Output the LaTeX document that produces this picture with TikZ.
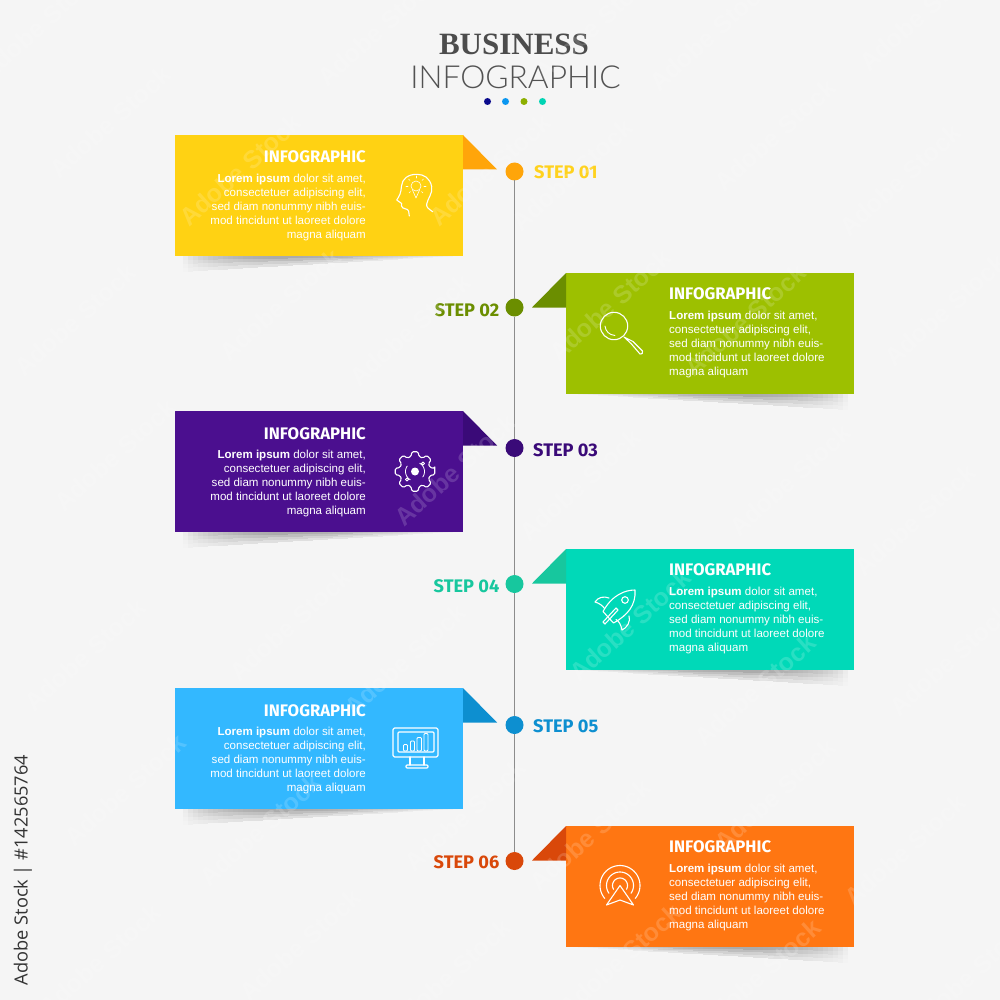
\documentclass[tikz,border=0pt]{standalone}
\usepackage{fontspec}
\setmainfont{Liberation Sans}
\newfontfamily\dinf{Fira Sans}
\newfontfamily\serf{Liberation Serif}
\newfontfamily\lightf{Lato Light}
\newfontfamily\sidef{Open Sans}
\definecolor{bgc}{HTML}{F5F5F5}
\definecolor{shc}{HTML}{ABABAB}
\definecolor{yel}{HTML}{FFD213}\definecolor{yelF}{HTML}{FFA50A}\definecolor{yelL}{HTML}{FFD21E}
\definecolor{gre}{HTML}{9DC000}\definecolor{greF}{HTML}{6B8E00}
\definecolor{pur}{HTML}{4B0F8F}\definecolor{purF}{HTML}{3A0A78}
\definecolor{tea}{HTML}{00D9B8}\definecolor{teaF}{HTML}{17C79E}
\definecolor{blu}{HTML}{33B8FF}\definecolor{bluF}{HTML}{0D8FD0}
\definecolor{ora}{HTML}{FF7612}\definecolor{oraF}{HTML}{D9480A}
\definecolor{tdA}{HTML}{0A0A8C}\definecolor{tdB}{HTML}{0A96F0}\definecolor{tdC}{HTML}{8CAF00}\definecolor{tdD}{HTML}{00D4B4}
\tikzset{
  x=1pt,y=-1pt,
  card/.style={anchor=north west,minimum width=288pt,minimum height=121pt,inner sep=0pt,outer sep=0pt},
  stepdot/.style={circle,minimum size=18pt,inner sep=0pt,outer sep=0pt},
  steplab/.style={font=\dinf\bfseries\fontsize{18.2}{18}\selectfont,inner sep=0pt},
  headlab/.style={font=\dinf\bfseries\fontsize{16.7}{17}\selectfont,text=white,inner sep=0pt},
  bodyR/.style={font=\fontsize{11.55}{14}\selectfont,text=white,inner sep=0pt,align=right,anchor=north east},
  bodyL/.style={font=\fontsize{11.55}{14}\selectfont,text=white,inner sep=0pt,align=left,anchor=north west},
  icon/.style={draw=white,line width=1.1pt,line cap=round,line join=round},
  wm/.style={font=\bfseries\fontsize{25}{25}\selectfont,text=white,opacity=.16,rotate=42,inner sep=0pt},
  tdot/.style={circle,minimum size=7pt,inner sep=0pt},
}
% soft cast shadow built from solid slices: #1 = top y, #2 = start x, #3 = +1/-1 direction
\newcommand\softshadow[3]{%
  \foreach \k in {0,...,54}{%
    \pgfmathsetmacro{\tv}{(\k+.5)/55}%
    \pgfmathsetmacro{\px}{#2+#3*5*\k}%
    \pgfmathsetmacro{\hh}{16*(1-\tv)}%
    \pgfmathsetmacro{\mm}{sin(180*pow(\tv,.7))}%
    \foreach \b/\w in {1/.3,.75/.5,.5/.75,.25/1}{%
      \pgfmathsetmacro{\cm}{100*\mm*\w}%
      \fill[shc!\cm!bgc] (\px,#1) rectangle (\px+#3*5.4,#1+\hh*\b);
    }%
  }%
}
\newcommand\leftcard[4]{%
  \softshadow{#1+121}{183}{1}%
  \node[card,fill=#2] (card#4) at (175,#1) {};
  \fill[#3] (463,#1) -- (497,#1+34.5) -- (463,#1+34.5) -- cycle;
  \node[headlab,anchor=base east] (head#4) at (366,#1+28) {INFOGRAPHIC};
  \node[bodyR] (body#4) at (366,#1+39) {\textbf{Lorem ipsum} dolor sit amet,\\consectetuer adipiscing elit,\\sed diam nonummy nibh euis-\\mod tincidunt ut laoreet dolore\\magna aliquam};
}
\newcommand\rightcard[4]{%
  \softshadow{#1+121}{848}{-1}%
  \node[card,fill=#2] (card#4) at (566,#1) {};
  \fill[#3] (566,#1) -- (532,#1+34.5) -- (566,#1+34.5) -- cycle;
  \node[headlab,anchor=base west] (head#4) at (669,#1+26) {INFOGRAPHIC};
  \node[bodyL] (body#4) at (669,#1+37.5) {\textbf{Lorem ipsum} dolor sit amet,\\consectetuer adipiscing elit,\\sed diam nonummy nibh euis-\\mod tincidunt ut laoreet dolore\\magna aliquam};
}
\begin{document}
\begin{tikzpicture}
\useasboundingbox (0,0) rectangle (1000,1000);
\fill[bgc] (0,0) rectangle (1000,1000);

% title
\node[font=\serf\bfseries\fontsize{31}{31}\selectfont,text=black!70,inner sep=0pt,anchor=base] (title1) at (514,54.5) {BUSINESS};
\node[font=\lightf\fontsize{31.7}{32}\selectfont,text=black!68,inner sep=0pt,anchor=base] (title2) at (515.5,89) {INFOGRAPHIC};
\node[tdot,fill=tdA] (td1) at (487.5,101.5) {};
\node[tdot,fill=tdB] (td2) at (505.5,101.5) {};
\node[tdot,fill=tdC] (td3) at (524,101.5) {};
\node[tdot,fill=tdD] (td4) at (542.5,101.5) {};

% cards
\leftcard{135}{yel}{yelF}{a}
\rightcard{273}{gre}{greF}{b}
\leftcard{411}{pur}{purF}{c}
\rightcard{549}{tea}{teaF}{d}
\leftcard{688}{blu}{bluF}{e}
\rightcard{826}{ora}{oraF}{f}

% timeline
\node[stepdot,fill=yelF] (d1) at (514.5,171.5) {};
\node[stepdot,fill=greF] (d2) at (514.5,307.5) {};
\node[stepdot,fill=purF] (d3) at (514.5,448) {};
\node[stepdot,fill=teaF] (d4) at (514.5,584) {};
\node[stepdot,fill=bluF] (d5) at (514.5,725) {};
\node[stepdot,fill=oraF] (d6) at (514.5,861) {};
\draw[black!45,line width=1.2pt] (d1) -- (d2) -- (d3) -- (d4) -- (d5) -- (d6);

\node[steplab,anchor=west,text=yelL] (s1) at (534,172) {STEP 01};
\node[steplab,anchor=east,text=greF] (s2) at (499.5,310) {STEP 02};
\node[steplab,anchor=west,text=purF] (s3) at (533,450) {STEP 03};
\node[steplab,anchor=east,text=teaF] (s4) at (499.5,586) {STEP 04};
\node[steplab,anchor=west,text=bluF] (s5) at (533,726) {STEP 05};
\node[steplab,anchor=east,text=oraF] (s6) at (499.5,862) {STEP 06};

% icon 1: head with bulb
\draw[icon] (432.7,211.7) .. controls (429,209) and (426,207.5) .. (426.7,204) .. controls (427.5,199) and (433,193) .. (431.7,186.7) .. controls (430,178) and (424,174.3) .. (416.7,174.3) .. controls (408,174.3) and (402,179) .. (401.5,186) .. controls (401,193) and (399.5,196) .. (396.7,200) -- (401.7,203.5) -- (401.5,206) .. controls (402,209.5) and (408,208) .. (408.6,211) -- (409.3,216);
\draw[icon,line width=.6pt] (416,186) circle[radius=5pt];
\draw[icon,line width=.6pt] (412.5,190) -- (416,198) -- (419.5,190);
\foreach \a/\b/\c/\d in {416/176/416/178,408.5/179/410/180.5,423.5/179/422/180.5,406/186/408/186,426/186/424/186,409/193/410.5/191.5,423/193/421.5/191.5}
  \draw[icon,line width=.6pt] (\a,\b) -- (\c,\d);

% icon 2: magnifier
\draw[icon] (614,326) circle[radius=13.7pt];
\draw[icon,line width=.9pt] (605,326) .. controls (605.5,331) and (609,335) .. (615,335.5);
\draw[icon] (624,337) -- (631,343.5) -- (640,354) .. controls (641.5,355) and (643.5,353) .. (642.5,351) -- (633,341.5) -- (624,337);

% icon 3: gear
\begin{scope}[shift={(415,471.5)}]
\draw[icon,rounded corners=1.4pt] (-9:20) \foreach \t in {0,45,...,315} { -- (\t-9:20) -- (\t+9:20) -- (\t+15:15.5) -- (\t+30:15.5) } -- cycle;
\fill[white] (0,0) circle[radius=4pt];
\draw[icon,line width=.8pt] plot[domain=120:215,samples=15,smooth] ({9.5*cos(\x)},{9.5*sin(\x)});
\draw[icon,line width=.8pt] plot[domain=-60:35,samples=15,smooth] ({9.5*cos(\x)},{9.5*sin(\x)});
\draw[icon,line width=.8pt] (8,-8) circle[radius=1.5pt];
\draw[icon,line width=.8pt] (-8,8) circle[radius=1.5pt];
\end{scope}

% icon 4: rocket
\draw[icon] (635,590) .. controls (625,590) and (612,595) .. (603,611.5) -- (613.5,623) .. controls (628,615) and (636,605) .. (635,590) -- cycle;
\draw[icon] (625,600) circle[radius=3.3pt];
\draw[icon] (609,598) .. controls (604,596) and (598,597) .. (595,602) .. controls (599,603) and (603,606) .. (604.5,608.5);
\draw[icon] (629,616) .. controls (631,621) and (627,628) .. (622,630) .. controls (621,625) and (619,621) .. (616,619.5);
\draw[icon] (603,622) -- (616,608) -- (618,610) -- (605,624) -- cycle;

% icon 5: monitor
\draw[icon,rounded corners=1.5pt] (393,728) rectangle (438,757);
\draw[icon,rounded corners=1pt] (398,732) rectangle (434,752);
\draw[icon] (410,757) -- (410,765) (424,757) -- (424,765);
\draw[icon,rounded corners=1pt] (406,765) rectangle (428,768);
\draw[icon,line width=.9pt,rounded corners=1pt] (403.5,751) rectangle (407.5,744.5);
\draw[icon,line width=.9pt,rounded corners=1pt] (410.5,751) rectangle (414.5,741);
\draw[icon,line width=.9pt,rounded corners=1pt] (417,751) rectangle (421.5,737.5);
\draw[icon,line width=.9pt,rounded corners=1pt] (424,751) rectangle (428,733.5);

% icon 6: antenna
\begin{scope}[shift={(620,885.5)}]
\draw[icon] plot[domain=140:400,samples=40,smooth] ({20*cos(\x)},{20*sin(\x)});
\draw[icon] plot[domain=145:395,samples=40,smooth] ({13.5*cos(\x)},{13.5*sin(\x)});
\draw[icon] plot[domain=150:390,samples=30,smooth] ({7.5*cos(\x)},{7.5*sin(\x)});
\draw[icon,fill=ora] (0,0) -- (13.5,19.5) -- (0,14.5) -- (-13.5,19.5) -- cycle;
\end{scope}

% side credit
\node[font=\sidef\fontsize{18.2}{18}\selectfont,text=black!80,rotate=90,inner sep=0pt,anchor=center] (credit) at (23,870) {Adobe Stock | \#142565764};

% stock marks
\foreach \x/\y [count=\i] in {40/25,110/122,240/170,378/30,490/170,572/175,595/25,710/35,775/135,900/180,920/15,75/320,280/305,410/330,610/305,745/320,945/310,115/455,455/470,580/485,790/480,915/520,85/655,290/625,405/660,630/625,755/690,950/660,125/790,260/830,465/815,590/835,775/795,905/850,100/960,300/945,450/975,620/960,760/975,970/975}
  \node[wm] (wm\i) at (\x,\y) {Adobe Stock};
\end{tikzpicture}
\end{document}
